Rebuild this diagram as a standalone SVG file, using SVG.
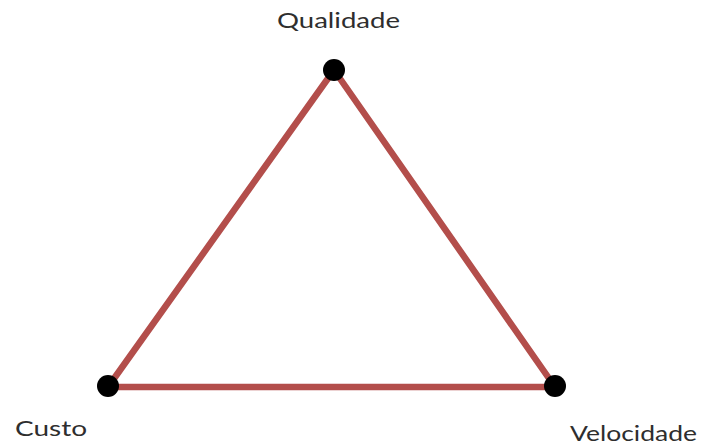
<svg xmlns="http://www.w3.org/2000/svg" width="702" height="445" viewBox="0 0 702 445">
<style>
.lbl{font-family:"Lato","Noto Sans",sans-serif;font-size:21px;fill:#2e2e2e}
.edge{stroke:#b34e4b;stroke-width:6.5;fill:none;stroke-linecap:round}
.dot{fill:#000}
</style>
<rect width="702" height="445" fill="#fff"/>
<g id="connectors">
<line class="edge" x1="334" y1="70" x2="108" y2="387"/>
<line class="edge" x1="334" y1="70" x2="555" y2="387"/>
<line class="edge" x1="108" y1="387" x2="555" y2="387"/>
</g>
<g id="qualidade">
<circle class="dot" cx="334" cy="70" r="11"/>
<text class="lbl" x="277" y="28" textLength="123" lengthAdjust="spacingAndGlyphs">Qualidade</text>
</g>
<g id="custo">
<circle class="dot" cx="108" cy="386" r="11"/>
<text class="lbl" x="15" y="436" textLength="72" lengthAdjust="spacingAndGlyphs">Custo</text>
</g>
<g id="velocidade">
<circle class="dot" cx="555" cy="386" r="11"/>
<text class="lbl" x="570" y="441" textLength="127" lengthAdjust="spacingAndGlyphs">Velocidade</text>
</g>
</svg>
